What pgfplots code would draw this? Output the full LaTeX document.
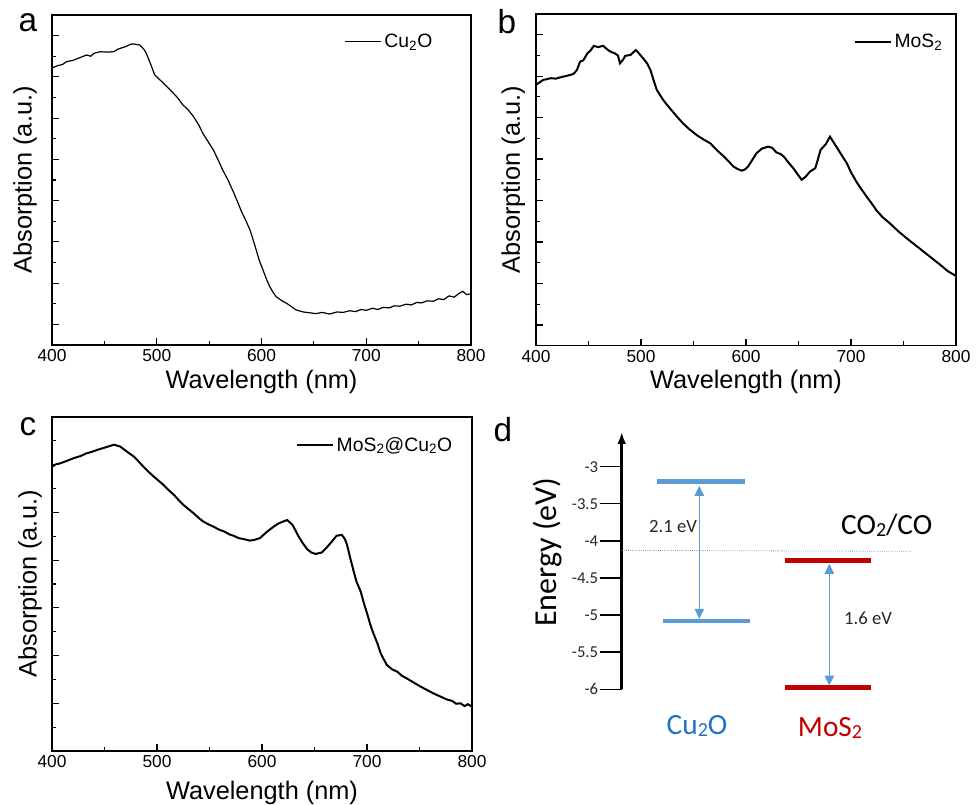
\documentclass[border=0pt]{standalone}
\usepackage{fontspec}
\setmainfont{Liberation Sans}
\newfontfamily\calfont{Carlito}
\usepackage{pgfplots}
\pgfplotsset{compat=1.18}
\usetikzlibrary{arrows.meta}
\definecolor{barblue}{HTML}{5B9BD5}
\definecolor{barred}{HTML}{C00000}
\definecolor{txtblue}{HTML}{1F72C4}

% 1 px of the reference = 0.75pt
\pgfplotsset{
  spec/.style={
    scale only axis, xmin=400, xmax=800,
    xtick={400,500,...,800}, minor xtick={450,550,650,750},
    yticklabels={}, tick align=inside, xtick pos=bottom, ytick pos=left,
    major tick length=5pt, minor tick length=3.2pt,
    axis line style={line width=0.9pt},
    tick style={black, line width=0.9pt},
    tick label style={font=\fontsize{13}{15}\selectfont},
    /pgf/number format/assume math mode=true,
    label style={font=\fontsize{19}{22}\selectfont},
    xlabel={Wavelength (nm)}, ylabel={Absorption (a.u.)},
    legend style={draw=none, fill=none, anchor=east, inner sep=0pt,
      font=\fontsize{14.5}{17}\selectfont},
    legend image code/.code={\draw[##1] (0pt,0pt) -- (27pt,0pt);},
  }
}

\begin{document}
\begin{tikzpicture}
\useasboundingbox (0pt,0pt) rectangle (732pt,603.75pt);

% (a) Cu2O
\begin{axis}[spec, at={(39pt,345pt)},
  width=314.25pt, height=247.5pt, ymin=0.5, ymax=8.5,
  ytick={1,...,8}, minor ytick={1.5,2.5,...,7.5},
  xlabel style={at={(axis description cs:0.5,-0.111)}, anchor=center},
  ylabel style={at={(axis description cs:-0.064,0.5)}, anchor=center},
  legend style={at={(axis description cs:0.915,0.919)}}]
\addplot[black, line width=0.9pt] coordinates {
(400,7.21) (405,7.27) (410,7.30) (414,7.37) (420,7.40) (426,7.46) (433,7.53) (437,7.50)
(440,7.57) (446,7.61) (452,7.60) (459,7.61) (462,7.66) (465,7.69) (470,7.73) (476,7.80)
(480,7.79) (484,7.77) (488,7.66) (490,7.57) (494,7.32) (498,7.05) (505,6.88) (513,6.68)
(519,6.52) (525,6.32) (530,6.20) (535,6.04) (540,5.84) (544,5.63) (549,5.43) (554,5.23)
(558,5.02) (563,4.74) (568,4.50) (573,4.22) (577,3.98) (581,3.73) (585,3.52) (589,3.29)
(592,3.05) (595,2.80) (598,2.54) (602,2.28) (605,2.08) (608,1.91) (611,1.78) (614,1.67)
(619,1.58) (624,1.51) (628,1.44) (633,1.35) (640,1.30) (646,1.28) (652,1.26) (658,1.29)
(665,1.25) (672,1.30) (678,1.29) (684,1.33) (690,1.31) (695,1.36) (700,1.34) (706,1.39)
(711,1.36) (716,1.41) (722,1.40) (727,1.45) (732,1.44) (738,1.49) (743,1.47) (748,1.53)
(753,1.52) (758,1.57) (764,1.56) (769,1.62) (774,1.60) (779,1.69) (784,1.66) (788,1.74)
(792,1.80) (796,1.72) (800,1.74)};
\addlegendentry{Cu\textsubscript{2}O}
\end{axis}

% (b) MoS2
\begin{axis}[spec, at={(402pt,344.5pt)},
  width=315pt, height=248.8pt, ymin=0.5, ymax=8.5,
  ytick={1,...,8}, minor ytick={1.5,2.5,...,7.5},
  xlabel style={at={(axis description cs:0.5,-0.109)}, anchor=center},
  ylabel style={at={(axis description cs:-0.054,0.5)}, anchor=center},
  legend style={at={(axis description cs:0.975,0.915)}}]
\addplot[black, line width=1.5pt] coordinates {
(400,6.79) (404,6.86) (407,6.91) (411,6.93) (414,6.95) (419,6.94) (423,6.97) (428,7.00)
(433,7.03) (436,7.06) (439,7.15) (442,7.35) (445,7.38) (449,7.55) (452,7.62) (455,7.73)
(459,7.70) (464,7.73) (468,7.64) (471,7.59) (475,7.55) (478,7.50) (480,7.31) (483,7.40)
(485,7.49) (490,7.51) (495,7.63) (498,7.55) (502,7.43) (506,7.30) (509,7.15) (512,6.90)
(515,6.67) (518,6.55) (521,6.43) (525,6.30) (529,6.18) (534,6.03) (540,5.86) (546,5.72)
(553,5.58) (559,5.48) (566,5.38) (572,5.22) (579,5.06) (584,4.93) (588,4.82) (592,4.76)
(596,4.72) (599,4.75) (602,4.82) (606,4.98) (610,5.14) (615,5.25) (621,5.30) (625,5.27)
(629,5.16) (633,5.12) (636,5.06) (640,4.93) (645,4.78) (649,4.64) (653,4.50) (657,4.58)
(661,4.70) (666,4.78) (668,4.95) (671,5.22) (676,5.36) (680,5.54) (683,5.42) (686,5.30)
(691,5.10) (696,4.90) (700,4.68) (705,4.46) (710,4.27) (715,4.09) (720,3.92) (724,3.77)
(730,3.60) (737,3.45) (745,3.26) (753,3.09) (761,2.93) (769,2.77) (777,2.61) (785,2.45)
(792,2.30) (800,2.18)};
\addlegendentry{MoS\textsubscript{2}}
\end{axis}

% (c) MoS2@Cu2O
\begin{axis}[spec, at={(39pt,40.5pt)},
  width=315pt, height=250.5pt, ymin=0, ymax=7,
  ytick={1,...,6}, minor ytick={0.5,1.5,...,6.5},
  xlabel style={at={(axis description cs:0.5,-0.126)}, anchor=center},
  ylabel style={at={(axis description cs:-0.052,0.5)}, anchor=center},
  legend style={at={(axis description cs:0.96,0.916)}}]
\addplot[black, line width=1.5pt] coordinates {
(400,5.96) (404,6.01) (408,6.03) (414,6.08) (421,6.14) (427,6.18) (433,6.24) (438,6.27)
(443,6.31) (452,6.37) (459,6.42) (465,6.38) (471,6.28) (478,6.17) (482,6.08) (487,5.96)
(492,5.85) (497,5.75) (506,5.58) (511,5.47) (516,5.37) (521,5.25) (525,5.16) (530,5.07)
(535,4.98) (540,4.88) (544,4.81) (549,4.75) (554,4.70) (559,4.64) (564,4.60) (569,4.54)
(573,4.51) (578,4.46) (583,4.44) (588,4.41) (592,4.42) (598,4.46) (605,4.60) (611,4.70)
(615,4.76) (619,4.80) (624,4.84) (629,4.74) (632,4.62) (635,4.49) (639,4.35) (643,4.23)
(647,4.16) (651,4.13) (657,4.16) (661,4.25) (665,4.35) (671,4.51) (676,4.53) (679,4.44)
(681,4.32) (684,4.05) (687,3.79) (690,3.55) (694,3.34) (697,3.10) (700,2.89) (703,2.66)
(706,2.47) (710,2.25) (713,2.05) (716,1.92) (719,1.80) (724,1.71) (729,1.66) (733,1.58)
(738,1.52) (744,1.44) (751,1.35) (757,1.28) (763,1.21) (769,1.15) (776,1.08) (781,1.05)
(785,0.99) (789,1.00) (793,0.94) (796,0.98) (800,0.93)};
\addlegendentry{MoS\textsubscript{2}@Cu\textsubscript{2}O}
\end{axis}

% (d) band diagram
\begin{axis}[at={(466.3pt,86.8pt)}, scale only axis,
  width=225pt, height=193.1pt, xmin=0, xmax=300, ymin=-6, ymax=-2.53,
  axis x line=none, axis y line=left, clip=false,
  y axis line style={line width=2.2pt, -{Latex[length=9pt, width=6.5pt]}},
  ytick={-6,-5.5,...,-3}, yticklabels={-6,-5.5,-5,-4.5,-4,-3.5,-3},
  tick align=outside, major tick length=16.5pt,
  tick style={black, line width=1.1pt},
  yticklabel style={font=\calfont\fontsize{12.5}{14}\selectfont, black!85, inner sep=1pt},
  ylabel={Energy (eV)},
  ylabel style={font=\calfont\fontsize{24}{28}\selectfont,
    at={(axis description cs:-0.246,0.533)}, anchor=center}]
\addplot[barblue, densely dotted, line width=0.6pt] coordinates {(0,-4.128) (289,-4.141)};
\addplot[barblue, line width=3.6pt] coordinates {(35,-3.2) (123.3,-3.2)};
\addplot[barblue, line width=3.6pt] coordinates {(41,-5.08) (128.3,-5.08)};
\addplot[barred, line width=3.6pt] coordinates {(163.6,-4.27) (249.3,-4.27)};
\addplot[barred, line width=3.6pt] coordinates {(163.6,-5.98) (249.3,-5.98)};
\addplot[barblue, line width=0.7pt, {Triangle[length=7.5pt, width=7.2pt]}-{Triangle[length=7.5pt, width=7.2pt]}]
  coordinates {(77.6,-3.26) (77.6,-5.05)};
\addplot[barblue, line width=0.7pt, {Triangle[length=7.5pt, width=7.2pt]}-{Triangle[length=7.5pt, width=7.2pt]}]
  coordinates {(207.6,-4.31) (207.6,-5.95)};
\node[font=\calfont\fontsize{14}{16}\selectfont, black!85] at (axis cs:51.3,-3.80) {2.1 eV};
\node[font=\calfont\fontsize{14}{16}\selectfont, black!85] at (axis cs:246.3,-5.05) {1.6 eV};
\node[font=\calfont\fontsize{22}{26}\selectfont] at (axis cs:265,-3.79)
  {CO\raisebox{-0.15ex}{\fontsize{15}{15}\selectfont 2}/CO};
\node[font=\calfont\fontsize{22}{26}\selectfont, txtblue] at (axis cs:75.3,-6.50)
  {Cu\raisebox{-0.15ex}{\fontsize{15}{15}\selectfont 2}O};
\node[font=\calfont\fontsize{22}{26}\selectfont, barred] at (axis cs:208.3,-6.52)
  {MoS\raisebox{-0.15ex}{\fontsize{15}{15}\selectfont 2}};
\end{axis}

% panel letters
\node[font=\fontsize{25}{28}\selectfont] at (21pt,586.5pt) {a};
\node[font=\fontsize{25}{28}\selectfont] at (380.25pt,587.25pt) {b};
\node[font=\fontsize{25}{28}\selectfont] at (21pt,283.5pt) {c};
\node[font=\fontsize{25}{28}\selectfont] at (377.25pt,281.25pt) {d};
\end{tikzpicture}
\end{document}
